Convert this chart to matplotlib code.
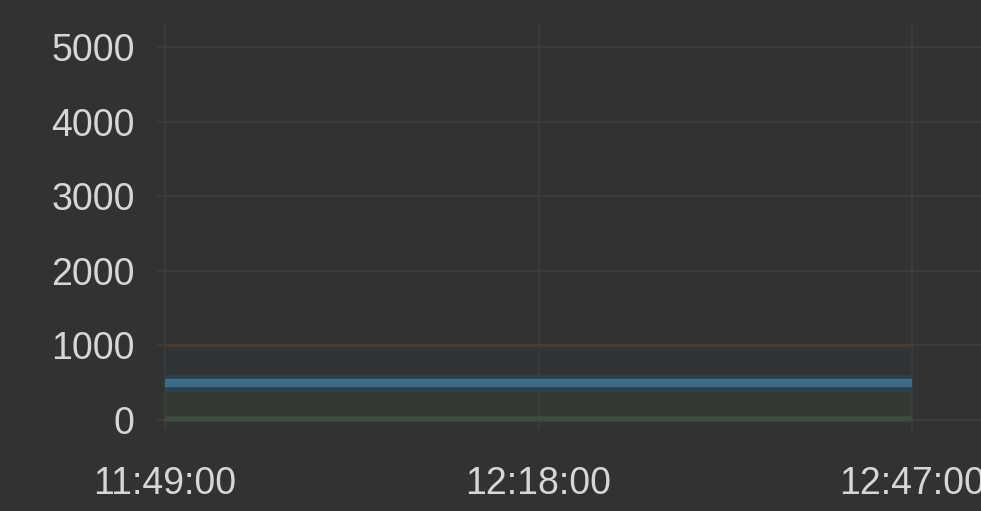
import datetime as dt
import matplotlib
matplotlib.use("Agg")
import matplotlib.pyplot as plt
import matplotlib.dates as mdates

# Series data
day = dt.date(2024, 1, 1)
times = [dt.datetime.combine(day, dt.time(h, m)) for h, m in [(11, 49), (12, 18), (12, 47)]]
requests = [500, 500, 500]
limit = [1000, 1000, 1000]
errors = [10, 10, 10]

tick_times = [dt.datetime.combine(day, dt.time(h, m)) for h, m in [(11, 49), (12, 18), (12, 47)]]
y_ticks = [0, 1000, 2000, 3000, 4000, 5000]

BG = "#323232"
GRID = "#3c3c3c"
TEXT = "#d6d6d6"

W, H = 981, 511
fig = plt.figure(figsize=(W / 100, H / 100), dpi=100, facecolor=BG)
ax = fig.add_axes([157 / W, (H - 430) / H, 1 - 157 / W, (430 - 25) / H])
ax.set_facecolor(BG)

ax.fill_between(times, errors, requests, color="#3a4238", alpha=0.45, linewidth=0)
ax.fill_between(times, requests, limit, color="#2e3840", alpha=0.35, linewidth=0)
ax.plot(times, limit, color="#4a3a30", linewidth=2.5, solid_capstyle="butt")
ax.plot(times, errors, color="#3e4a3e", linewidth=4, solid_capstyle="butt")
ax.plot(times, requests, color="#2a4250", linewidth=12, solid_capstyle="butt")
ax.plot(times, requests, color="#3d6b86", linewidth=6, solid_capstyle="butt")

ax.set_ylim(-134, 5295)
ax.set_xlim(dt.datetime.combine(day, dt.time(11, 48, 23)),
            dt.datetime.combine(day, dt.time(12, 52, 21)))
ax.set_yticks(y_ticks)
ax.set_xticks(tick_times)
ax.xaxis.set_major_formatter(mdates.DateFormatter("%H:%M:%S"))

ax.grid(True, color=GRID, linewidth=1.5)
ax.set_axisbelow(True)
for s in ax.spines.values():
    s.set_visible(False)
ax.tick_params(axis="both", length=0, colors=TEXT, labelsize=27,
               labelfontfamily="Liberation Sans")
ax.tick_params(axis="y", pad=16)
ax.tick_params(axis="x", pad=26)

fig.savefig("out.png", dpi=100, facecolor=BG)
